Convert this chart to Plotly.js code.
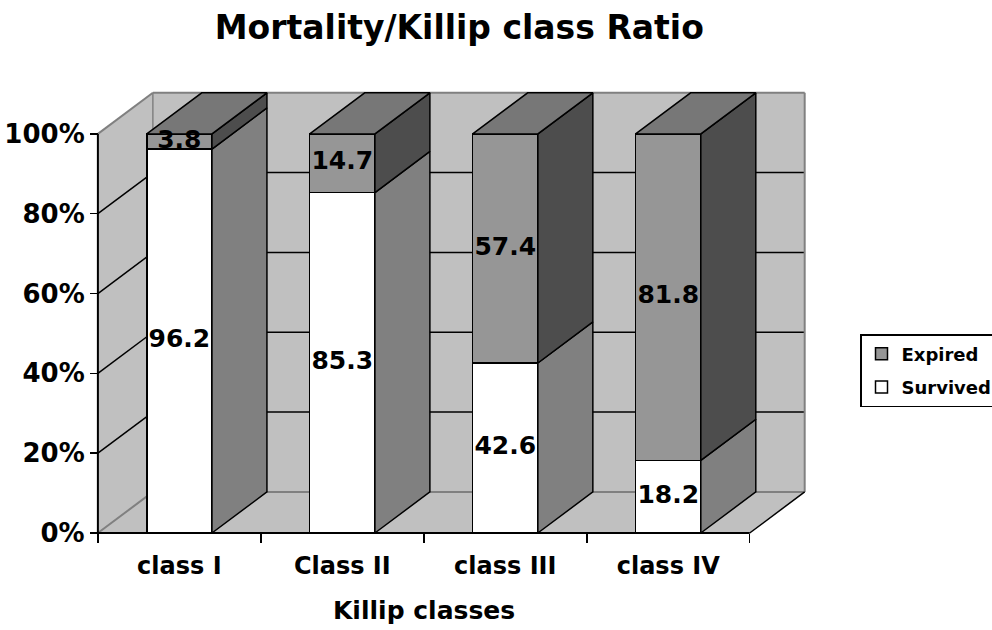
<!DOCTYPE html>
<html>
<head>
<meta charset="utf-8">
<script src="https://cdn.plot.ly/plotly-3.0.1.min.js"></script>
<style>html,body{margin:0;padding:0;background:#fff;}#chart{width:992px;height:630px;}</style>
</head>
<body>
<div id="chart"></div>
<script>
// ---- data ----
const categories = ['class I', 'Class II', 'class III', 'class IV'];
const survived = [96.2, 85.3, 42.6, 18.2];
const expired = [3.8, 14.7, 57.4, 81.8];
const yTickVals = [0, 20, 40, 60, 80, 100];
const yTickText = ['0%', '20%', '40%', '60%', '80%', '100%'];
const seriesNames = ['Survived', 'Expired'];
const chartTitle = 'Mortality/Killip class Ratio';
const xTitle = 'Killip classes';

// ---- style / geometry constants ----
const DX = 0.3374;   // depth offset in category units
const DY = 10.3;     // depth offset in % units
const BW = 0.4;      // bar width
const FONT = 'DejaVu Sans';
const WALL = '#c0c0c0', EDGE = '#808080';
const C_SURV = '#ffffff', C_EXP = '#969696';
const C_SURV_SIDE = '#808080', C_EXP_SIDE = '#4d4d4d', C_TOP = '#777777';

const xs = categories.map((c, i) => i);
const xMin = -0.5, xMax = categories.length - 0.5;

const traces = [];
traces.push({
  type: 'bar', x: xs, y: survived, width: BW, name: seriesNames[0],
  marker: {color: C_SURV, line: {color: '#000', width: 1.5}},
  legendgroup: 's', legendrank: 2, hoverinfo: 'skip'
});
traces.push({
  type: 'bar', x: xs, y: expired, width: BW, name: seriesNames[1],
  marker: {color: C_EXP, line: {color: '#000', width: 1.5}},
  legendgroup: 'e', legendrank: 1, hoverinfo: 'skip'
});

function poly(px, py, color) {
  traces.push({
    type: 'scatter', mode: 'lines', x: px.concat([px[0]]), y: py.concat([py[0]]),
    fill: 'toself', fillcolor: color, line: {color: '#000', width: 1.5},
    showlegend: false, hoverinfo: 'skip'
  });
}
xs.forEach((x, i) => {
  const xl = x - BW / 2, xr = x + BW / 2;
  const s = survived[i], tot = survived[i] + expired[i];
  poly([xr, xr, xr + DX, xr + DX], [0, s, s + DY, DY], C_SURV_SIDE);
  poly([xr, xr, xr + DX, xr + DX], [s, tot, tot + DY, s + DY], C_EXP_SIDE);
  poly([xl, xr, xr + DX, xl + DX], [tot, tot, tot + DY, tot + DY], C_TOP);
});

// data labels
const lx = [], ly = [], lt = [];
xs.forEach((x, i) => {
  lx.push(x); ly.push(survived[i] / 2); lt.push(survived[i].toFixed(1));
  lx.push(x); ly.push(survived[i] + expired[i] / 2); lt.push(expired[i].toFixed(1));
});
traces.push({
  type: 'scatter', mode: 'text', x: lx, y: ly, text: lt, cliponaxis: false,
  textfont: {family: FONT, size: 25, color: '#000', weight: 'bold'},
  showlegend: false, hoverinfo: 'skip'
});

// walls, floor, gridlines
const shapes = [];
const L = (x0, y0, x1, y1, color, w, layer) => shapes.push({type: 'line', xref: 'x', yref: 'y', x0, y0, x1, y1, line: {color, width: w}, layer: layer || 'below'});
shapes.push({type: 'path', xref: 'x', yref: 'y', layer: 'below', fillcolor: WALL, line: {width: 0},
  path: `M${xMin},0 L${xMin},100 L${xMin + DX},${100 + DY} L${xMin + DX},${DY} Z`});
shapes.push({type: 'rect', xref: 'x', yref: 'y', layer: 'below', fillcolor: WALL, line: {width: 0},
  x0: xMin + DX, x1: xMax + DX, y0: DY, y1: 100 + DY});
shapes.push({type: 'path', xref: 'x', yref: 'y', layer: 'below', fillcolor: WALL, line: {width: 0},
  path: `M${xMin},0 L${xMax},0 L${xMax + DX},${DY} L${xMin + DX},${DY} Z`});
yTickVals.forEach(v => {
  if (v === 0 || v === 100) return;
  L(xMin, v, xMin + DX, v + DY, '#000', 1.5);
  L(xMin + DX, v + DY, xMax + DX, v + DY, '#000', 1.5);
});
L(xMin, 0, xMin + DX, DY, EDGE, 2);
L(xMin, 100, xMin + DX, 100 + DY, EDGE, 2);
L(xMin + DX, 100 + DY, xMax + DX, 100 + DY, EDGE, 2);
L(xMax + DX, DY, xMax + DX, 100 + DY, EDGE, 2);
L(xMin + DX, DY, xMin + DX, 100 + DY, EDGE, 1.5);
L(xMin + DX, DY, xMax + DX, DY, EDGE, 2);
L(xMax, 0, xMax + DX, DY, '#000', 1.5);
// front axis lines
L(xMin, 0, xMin, 100, '#000', 2, 'above');
L(xMin, 0, xMax, 0, '#000', 2, 'above');

const boundaries = [];
for (let i = 0; i <= categories.length; i++) boundaries.push(i - 0.5);

const layout = {
  width: 992, height: 630,
  paper_bgcolor: '#fff', plot_bgcolor: '#fff',
  margin: {l: 93, r: 182, t: 90, b: 93, autoexpand: false},
  barmode: 'stack', bargap: 0,
  showlegend: true,
  font: {family: FONT, color: '#000'},
  title: {text: chartTitle, x: 0.463, xanchor: 'center', y: 0.957, yanchor: 'middle',
    font: {family: FONT, size: 33, color: '#000', weight: 'bold'}},
  xaxis: {
    range: [-0.53, 3.87], anchor: 'free', position: 1 / 112,
    tickmode: 'array', tickvals: xs, ticktext: categories, ticks: '',
    ticklabelstandoff: 16,
    showgrid: false, zeroline: false, showline: false,
    tickfont: {family: FONT, size: 24, color: '#000', weight: 'bold'},
    minor: {tickmode: 'array', tickvals: boundaries, ticks: 'outside', ticklen: 9, tickwidth: 1.5, tickcolor: '#000', showgrid: false}
  },
  yaxis: {
    range: [-1, 111], anchor: 'free', position: 0.03 / 4.4,
    tickmode: 'array', tickvals: yTickVals, ticktext: yTickText,
    ticks: 'outside', ticklen: 8, tickwidth: 1.5, tickcolor: '#000',
    showgrid: false, zeroline: false, showline: false,
    tickfont: {family: FONT, size: 26, color: '#000', weight: 'bold'}
  },
  legend: {
    x: (860 - 93) / 717, xanchor: 'left', y: (537 - 334) / 447, yanchor: 'top',
    bordercolor: '#000', borderwidth: 1.5, bgcolor: '#fff',
    traceorder: 'grouped', tracegroupgap: 7,
    font: {family: FONT, size: 18, color: '#000', weight: 'bold'}
  },
  annotations: [{
    text: xTitle, xref: 'x', yref: 'paper', x: 1.5, y: (537 - 610) / 447,
    xanchor: 'center', yanchor: 'middle', showarrow: false,
    font: {family: FONT, size: 25, color: '#000', weight: 'bold'}
  }],
  shapes: shapes
};

Plotly.newPlot('chart', traces, layout, {displayModeBar: false, staticPlot: true});
</script>
</body>
</html>
